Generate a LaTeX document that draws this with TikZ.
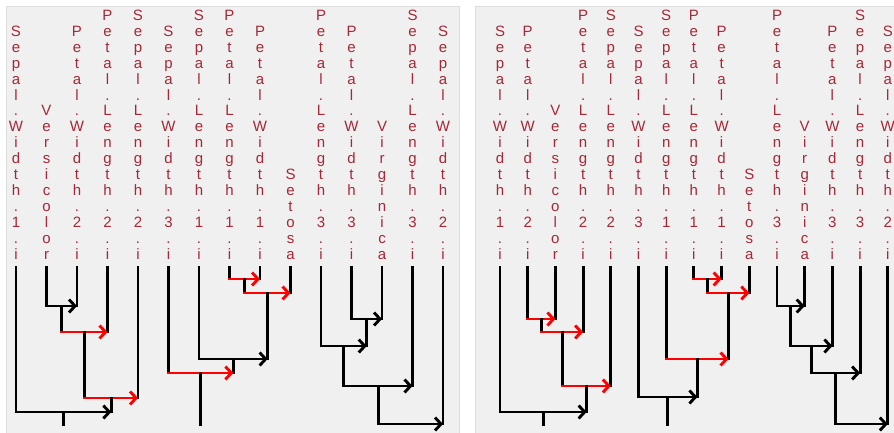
\documentclass[tikz,border=0pt]{standalone}
\usepackage{fontspec}
\setmainfont{Liberation Sans}
\usetikzlibrary{arrows.meta}
\definecolor{panelgray}{RGB}{240,240,240}
\definecolor{panelborder}{RGB}{222,222,222}
\definecolor{labred}{RGB}{165,40,55}
\definecolor{linkred}{RGB}{255,0,0}
\makeatletter
\newcommand\vlab[1]{\expandafter\vlabi\expandafter{#1}}
\newcommand\vlabi[1]{\vbox{\baselineskip=15.9pt\lineskiplimit=-\maxdimen\lineskip=0pt
  \@tfor\ch:=#1\do{\hbox to 16pt{\hss\ch\hss}}}}
\makeatother
\newcommand\merge[6]{%
  \coordinate (#1) at (#4,#5);
  \draw[vline] (#2) -- (#2 |- #1);
  \draw[vline] (#3) -- (#3 |- #1);
  \draw[#6] (#2 |- #1) -- (#3 |- #1);}
\tikzset{
  vline/.style={line width=2.9pt, line cap=rect, black},
  hblack/.style={line width=2.9pt, line cap=rect, black, -{Straight Barb[length=6pt,width=13pt]}},
  hred/.style={hblack, linkred},
  lab/.style={anchor=base, inner sep=0pt, text=labred, font=\fontsize{15}{15.9}\selectfont},
  panel/.style={fill=panelgray, draw=panelborder, line width=0.8pt}
}
\begin{document}
\begin{tikzpicture}[x=1pt, y=-1pt]
\useasboundingbox (0,0) rectangle (894,432);
\fill[white] (0,0) rectangle (894,432);
\path[panel] (6,6) rectangle (459,433);
\path[panel] (475,6) rectangle (895,433);
\coordinate (bot) at (0,425);
% left panel labels and leaf tops
\foreach \x/\lab [count=\i from 0] in {16/Sepal.Width.1.i, 46.5/Versicolor, 77/Petal.Width.2.i, 107.5/Petal.Length.2.i, 138/Sepal.Length.2.i, 168.5/Sepal.Width.3.i, 199/Sepal.Length.1.i, 229.5/Petal.Length.1.i, 260/Petal.Width.1.i, 290.5/Setosa, 321/Petal.Length.3.i, 351.5/Petal.Width.3.i, 382/Virginica, 412.5/Sepal.Length.3.i, 443/Sepal.Width.2.i}{
  \node[lab] (t\i) at (\x,259) {\vlab{\lab}};
  \coordinate (a\i) at (\x,267);
}
% right panel labels and leaf tops
\foreach \x/\lab [count=\i from 0] in {500/Sepal.Width.1.i, 527.7/Petal.Width.2.i, 555.4/Versicolor, 583.1/Petal.Length.2.i, 610.8/Sepal.Length.2.i, 638.5/Sepal.Width.3.i, 666.2/Sepal.Length.1.i, 693.9/Petal.Length.1.i, 721.6/Petal.Width.1.i, 749.3/Setosa, 777/Petal.Length.3.i, 804.7/Virginica, 832.4/Petal.Width.3.i, 860.1/Sepal.Length.3.i, 887.8/Sepal.Width.2.i}{
  \node[lab] (u\i) at (\x,259) {\vlab{\lab}};
  \coordinate (b\i) at (\x,267);
}
% ---- left tree
\merge{lA}{a1}{a2}{61.75}{306}{hblack}
\merge{lB}{lA}{a3}{84.6}{332}{hred}
\merge{lC}{lB}{a4}{111.3}{398}{hred}
\merge{lD}{a0}{lC}{63.7}{412}{hblack}
\draw[vline] (lD) -- (lD |- bot);
\merge{lE}{a7}{a8}{244.75}{279}{hred}
\merge{lF}{lE}{a9}{267.6}{293}{hred}
\merge{lG}{a6}{lF}{233.3}{359}{hblack}
\merge{lH}{a5}{lG}{200.9}{373}{hred}
\draw[vline] (lH) -- (lH |- bot);
\merge{lI}{a11}{a12}{366.75}{319}{hblack}
\merge{lJ}{a10}{lI}{343.9}{346}{hblack}
\merge{lK}{lJ}{a13}{378.2}{386}{hblack}
\merge{lM}{lK}{a14}{410.6}{424}{hblack}
% ---- right tree
\merge{rA}{b1}{b2}{541.55}{319}{hred}
\merge{rB}{rA}{b3}{562.3}{332}{hred}
\merge{rC}{rB}{b4}{586.6}{386}{hred}
\merge{rD}{b0}{rC}{543.3}{412}{hblack}
\draw[vline] (rD) -- (rD |- bot);
\merge{rE}{b7}{b8}{707.75}{279}{hred}
\merge{rF}{rE}{b9}{728.5}{293}{hred}
\merge{rG}{b6}{rF}{697.4}{359}{hred}
\merge{rH}{b5}{rG}{667.9}{397}{hblack}
\draw[vline] (rH) -- (rH |- bot);
\merge{rI}{b10}{b11}{790.9}{306}{hblack}
\merge{rJ}{rI}{b12}{811.6}{346}{hblack}
\merge{rK}{rJ}{b13}{835.9}{373}{hblack}
\merge{rM}{rK}{b14}{861.9}{424}{hblack}
\end{tikzpicture}
\end{document}
